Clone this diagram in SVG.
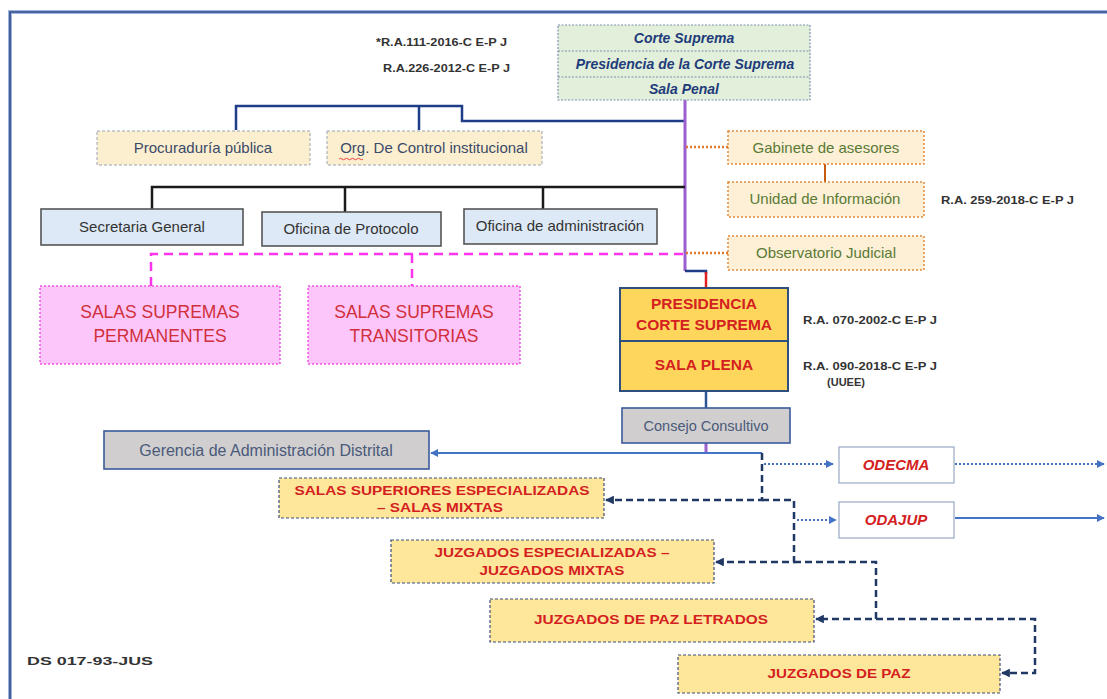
<svg xmlns="http://www.w3.org/2000/svg" width="1107" height="699" viewBox="0 0 1107 699">
<defs>
<style>
text{font-family:"Liberation Sans",Arial,sans-serif;}
.nv{fill:#333;font-weight:bold;font-size:11px;}
.cs{fill:#1f3c7a;font-weight:bold;font-style:italic;font-size:14px;text-anchor:middle;}
.bg{fill:#fcefcf;stroke:#9aa3b5;stroke-width:1;stroke-dasharray:3 2;}
.bgt{fill:#3a4a6a;font-size:15px;text-anchor:middle;}
.lb{fill:#dde9f6;stroke:#555;stroke-width:1.6;}
.lbt{fill:#333;font-size:15px;text-anchor:middle;}
.or{fill:#fdf0d6;stroke:#e08a3c;stroke-width:1.5;stroke-dasharray:2 2;}
.ort{fill:#5a7a35;font-size:15px;text-anchor:middle;}
.pk{fill:#fdc6fb;stroke:#ee55e6;stroke-width:1.5;stroke-dasharray:2 2;}
.pkt{fill:#d0303c;font-size:17.5px;text-anchor:middle;}
.ye{fill:#fee79b;stroke:#3b4f7a;stroke-width:1.2;stroke-dasharray:3 2;}
.yet{fill:#d42020;font-weight:bold;font-size:13.5px;text-anchor:middle;}
.pr{fill:#ffd65c;stroke:#2f4f7f;stroke-width:2;}
.prt{fill:#d42020;font-weight:bold;font-size:15.5px;text-anchor:middle;}
.gr{fill:#d0cece;stroke:#3b5a9a;stroke-width:1.6;}
.wb{fill:#fff;stroke:#9aa8c8;stroke-width:1.2;}
.wbt{fill:#d42020;font-weight:bold;font-style:italic;font-size:15px;text-anchor:middle;}
.navy{fill:none;stroke:#1f3c88;stroke-width:2.5;}
.dash{fill:none;stroke:#203864;stroke-width:2.5;stroke-dasharray:7 4;}
.dot{fill:none;stroke:#4472c4;stroke-width:2;stroke-dasharray:2 2;}
</style>
<marker id="ab" viewBox="0 0 10 10" refX="9" refY="5" markerWidth="4" markerHeight="4" orient="auto"><path d="M0,0 L10,5 L0,10 z" fill="#4472c4"/></marker>
<marker id="an" viewBox="0 0 10 10" refX="9" refY="5" markerWidth="3.5" markerHeight="3.5" orient="auto"><path d="M0,0 L10,5 L0,10 z" fill="#203864"/></marker>
</defs>
<rect width="1107" height="699" fill="#fff"/>
<g id="frame" fill="none">
<path d="M10,699 V12 H1107" stroke="#9fb4dc" stroke-width="4"/>
<path d="M10,699 V12 H1107" stroke="#2f4a8a" stroke-width="1.6"/>
</g>
<g id="connectors">
<path class="navy" d="M236,130 V106 H462 V121 H685 M419,106 V130"/>
<path d="M685,100 V271" stroke="#9b5fd0" stroke-width="3" fill="none"/>
<path d="M685,271 H706 V274" stroke="#1f3c88" stroke-width="2.5" fill="none"/>
<path d="M706,272 V288" stroke="#e02020" stroke-width="2.5" fill="none"/>
<path d="M152,209 V187 H685 M345,187 V212 M543,187 V209" stroke="#1a1a1a" stroke-width="2.5" fill="none"/>
<path d="M151,286 V254 H685 M412,254 V286" stroke="#ff33ee" stroke-width="2.5" stroke-dasharray="9 6" fill="none"/>
<path d="M686,147 H728 M686,253 H728" stroke="#e07830" stroke-width="2.5" stroke-dasharray="2 2" fill="none"/>
<path d="M825,164 V182" stroke="#c55a11" stroke-width="2" fill="none"/>
<path d="M706,391 V408" stroke="#2f5597" stroke-width="2.5" fill="none"/>
<path d="M706,443 V453" stroke="#9b5fd0" stroke-width="3" fill="none"/>
<path d="M762,453 H431" stroke="#4472c4" stroke-width="2" fill="none" marker-end="url(#ab)"/>
<path class="dash" d="M762,453 V500 H606" marker-end="url(#an)"/>
<path class="dash" d="M762,500 H794 V562 H716" marker-end="url(#an)"/>
<path class="dash" d="M794,562 H876 V619 H816" marker-end="url(#an)"/>
<path class="dash" d="M876,619 H1035 V673 H1002" marker-end="url(#an)"/>
<path class="dot" d="M764,464 H833" marker-end="url(#ab)"/>
<path class="dot" d="M955,464 H1104" marker-end="url(#ab)"/>
<path class="dot" d="M797,520 H836" marker-end="url(#ab)"/>
<path d="M955,518 H1104" stroke="#4472c4" stroke-width="2" fill="none" marker-end="url(#ab)"/>
</g>
<g id="notes">
<text class="nv" x="376" y="46" textLength="131" lengthAdjust="spacingAndGlyphs">*R.A.111-2016-C E-P J</text>
<text class="nv" x="383" y="72" textLength="127" lengthAdjust="spacingAndGlyphs">R.A.226-2012-C E-P J</text>
<text class="nv" x="941" y="204" textLength="133" lengthAdjust="spacingAndGlyphs">R.A. 259-2018-C E-P J</text>
<text class="nv" x="803" y="324" textLength="134" lengthAdjust="spacingAndGlyphs">R.A. 070-2002-C E-P J</text>
<text class="nv" x="803" y="370" textLength="134" lengthAdjust="spacingAndGlyphs">R.A. 090-2018-C E-P J</text>
<text class="nv" x="846" y="386" text-anchor="middle">(UUEE)</text>
<text class="nv" x="27" y="665" font-size="14" textLength="126" lengthAdjust="spacingAndGlyphs">DS 017-93-JUS</text>
</g>
<g id="corte-suprema">
<rect x="558" y="25" width="252" height="75" fill="#e2efda" stroke="#7f8fb0" stroke-width="1.2" stroke-dasharray="2 1.5"/>
<path d="M558,51 H810 M558,77 H810" stroke="#7f8fb0" stroke-width="1.2" stroke-dasharray="2 1.5"/>
<text class="cs" x="684" y="43">Corte Suprema</text>
<text class="cs" x="685" y="69">Presidencia de la Corte Suprema</text>
<text class="cs" x="684" y="94">Sala Penal</text>
</g>
<g id="procuraduria">
<rect class="bg" x="97" y="131" width="213" height="34"/>
<text class="bgt" x="203" y="153">Procuraduría pública</text>
</g>
<g id="org-control">
<rect class="bg" x="327" y="131" width="215" height="34"/>
<text class="bgt" x="434" y="153">Org. De Control institucional</text>
<path d="M339,159 q1.5,-1.5 3,0 t3,0 t3,0 t3,0 t3,0 t3,0 t3,0 t3,0" stroke="#e03030" stroke-width="0.9" fill="none"/>
</g>
<g id="secretaria">
<rect class="lb" x="41" y="209" width="202" height="36"/>
<text class="lbt" x="142" y="232">Secretaria General</text>
</g>
<g id="protocolo">
<rect class="lb" x="262" y="212" width="179" height="34"/>
<text class="lbt" x="351" y="234">Oficina de Protocolo</text>
</g>
<g id="administracion">
<rect class="lb" x="464" y="209" width="193" height="35"/>
<text class="lbt" x="560" y="231">Oficina de administración</text>
</g>
<g id="gabinete">
<rect class="or" x="728" y="131" width="196" height="33"/>
<text class="ort" x="826" y="153">Gabinete de asesores</text>
</g>
<g id="unidad">
<rect class="or" x="728" y="182" width="196" height="35"/>
<text class="ort" x="825" y="204">Unidad de Información</text>
</g>
<g id="observatorio">
<rect class="or" x="728" y="236" width="196" height="34"/>
<text class="ort" x="826" y="258">Observatorio Judicial</text>
</g>
<g id="salas-permanentes">
<rect class="pk" x="40" y="286" width="240" height="78"/>
<text class="pkt" x="160" y="318">SALAS SUPREMAS</text>
<text class="pkt" x="160" y="342">PERMANENTES</text>
</g>
<g id="salas-transitorias">
<rect class="pk" x="308" y="286" width="212" height="78"/>
<text class="pkt" x="414" y="318">SALAS SUPREMAS</text>
<text class="pkt" x="414" y="342">TRANSITORIAS</text>
</g>
<g id="presidencia">
<rect class="pr" x="620" y="288" width="168" height="53"/>
<text class="prt" x="704" y="309">PRESIDENCIA</text>
<text class="prt" x="704" y="330">CORTE SUPREMA</text>
</g>
<g id="sala-plena">
<rect class="pr" x="620" y="341" width="168" height="50"/>
<text class="prt" x="704" y="370">SALA PLENA</text>
</g>
<g id="consejo">
<rect class="gr" x="622" y="408" width="168" height="35"/>
<text x="706" y="431" text-anchor="middle" font-size="14.5" fill="#4a5a7a">Consejo Consultivo</text>
</g>
<g id="gerencia">
<rect class="gr" x="104" y="431" width="325" height="38"/>
<text x="266" y="456" text-anchor="middle" font-size="16" fill="#4a5a7a">Gerencia de Administración Distrital</text>
</g>
<g id="odecma">
<rect class="wb" x="839" y="447" width="115" height="36"/>
<text class="wbt" x="896" y="470">ODECMA</text>
</g>
<g id="odajup">
<rect class="wb" x="839" y="502" width="115" height="36"/>
<text class="wbt" x="896" y="525">ODAJUP</text>
</g>
<g id="salas-superiores">
<rect class="ye" x="279" y="478" width="325" height="40"/>
<text class="yet" x="442" y="495" textLength="295" lengthAdjust="spacingAndGlyphs">SALAS SUPERIORES ESPECIALIZADAS</text>
<text class="yet" x="440" y="512" textLength="126" lengthAdjust="spacingAndGlyphs">– SALAS MIXTAS</text>
</g>
<g id="juzgados-especializadas">
<rect class="ye" x="391" y="540" width="323" height="43"/>
<text class="yet" x="552" y="557" textLength="235" lengthAdjust="spacingAndGlyphs">JUZGADOS ESPECIALIZADAS –</text>
<text class="yet" x="552" y="575" textLength="145" lengthAdjust="spacingAndGlyphs">JUZGADOS MIXTAS</text>
</g>
<g id="juzgados-paz-letrados">
<rect class="ye" x="490" y="599" width="324" height="43"/>
<text class="yet" x="651" y="624" textLength="234" lengthAdjust="spacingAndGlyphs">JUZGADOS DE PAZ LETRADOS</text>
</g>
<g id="juzgados-paz">
<rect class="ye" x="678" y="655" width="322" height="38"/>
<text class="yet" x="839" y="678" textLength="143" lengthAdjust="spacingAndGlyphs">JUZGADOS DE PAZ</text>
</g>
</svg>
